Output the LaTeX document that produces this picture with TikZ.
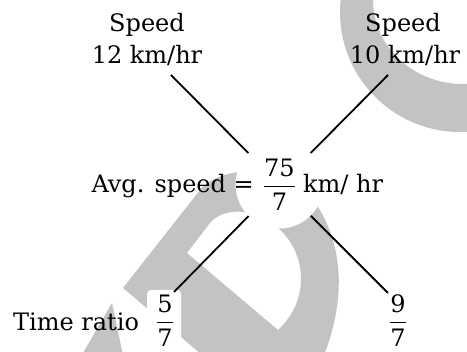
\documentclass[tikz,border=0pt]{standalone}
\usepackage{amsmath}
\usepackage{fontspec}
\setmainfont{DejaVu Serif}
\definecolor{wm}{gray}{0.765}
\tikzset{
  lbl/.style={inner sep=0pt, font=\fontsize{24}{29}\selectfont},
  conn/.style={line width=1.8pt, black},
  halo/.style={circle, fill=white, minimum size=88pt, inner sep=0pt}
}
\begin{document}
\begin{tikzpicture}[x=1pt,y=-1pt]
\useasboundingbox (0,0) rectangle (467,352);
% watermark
\begin{scope}
\clip (0,0) rectangle (467,352);
\fill[wm, even odd rule] (460,12) circle[radius=120] (463,0) ellipse[x radius=90, y radius=84];
\fill[wm, even odd rule] (123,288) -- (200,190) .. controls (220,165) and (290,160) .. (318,207)
   .. controls (345,250) and (345,305) .. (322,360) -- (208,360) -- cycle
   (187,253) -- (210,223) .. controls (225,205) and (262,208) .. (285,235)
   .. controls (305,258) and (310,300) .. (278,330) -- cycle;
\fill[wm] (112,303) -- (124,360) -- (79,360) -- cycle;
\fill[white, rounded corners=4pt] (147,290) rectangle (181,360);
\end{scope}
\node[halo] (hub) at (279.5,184.5) {};
% labels
\node[lbl, anchor=base] (s1a) at (147,31.5) {Speed};
\node[lbl, anchor=base] (s1b) at (147,64) {12 km/hr};
\node[lbl, anchor=base] (s2a) at (403,31.5) {Speed};
\node[lbl, anchor=base] (s2b) at (405,64) {10 km/hr};
\node[lbl, anchor=base east] (avg) at (254,193) {Avg. speed =};
\node[lbl, anchor=base] (frac) at (279.5,193) {$\dfrac{\text{75}}{\text{7}}$};
\node[lbl, anchor=base west] (unit) at (303,193) {km/ hr};
\node[lbl, anchor=base west] (tr) at (13,331) {Time ratio};
\node[lbl, anchor=base] (r1) at (165,329) {$\dfrac{\text{5}}{\text{7}}$};
\node[lbl, anchor=base] (r2) at (398,329) {$\dfrac{\text{9}}{\text{7}}$};
% connector ends
\coordinate (e1) at (171,75);
\coordinate (e2) at (388,75);
\coordinate (e3) at (174,292);
\coordinate (e4) at (388,293);
\draw[conn] (hub) -- (e1);
\draw[conn] (hub) -- (e2);
\draw[conn] (hub) -- (e3);
\draw[conn] (hub) -- (e4);
\end{tikzpicture}
\end{document}
